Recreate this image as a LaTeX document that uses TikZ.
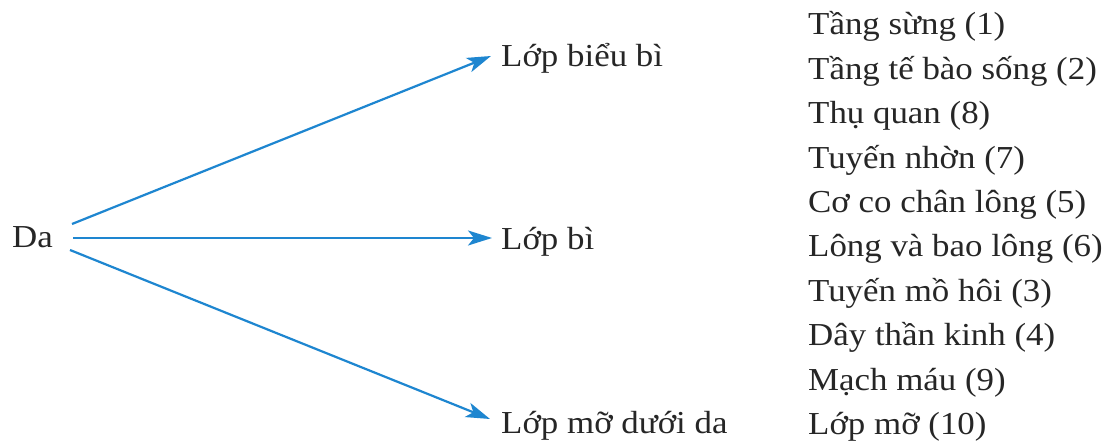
\documentclass[tikz,border=0pt]{standalone}
\usepackage{fontspec}
\setmainfont{Liberation Serif}[FakeStretch=1.09]
\usetikzlibrary{arrows.meta}
\definecolor{arrblue}{HTML}{1E86D0}
\begin{document}
\begin{tikzpicture}[x=1pt,y=-1pt,
  lbl/.style={anchor=base west,inner sep=0pt,font=\fontsize{32}{32}\selectfont,text=black!85},
  arr/.style={draw=arrblue,line width=2.2pt,-{Stealth[length=24pt,width=15pt,inset=6pt]}}]
\useasboundingbox[fill=white] (0,0) rectangle (1117,446);
\node[lbl] (da) at (12,248) {Da};
\node[lbl] (b1) at (501,67) {Lớp biểu bì};
\node[lbl] (b2) at (501,250) {Lớp bì};
\node[lbl] (b3) at (501,433) {Lớp mỡ dưới da};
\coordinate (s1) at (72,224);
\coordinate (s2) at (73,238);
\coordinate (s3) at (70,250);
\coordinate (t1) at (491,56);
\coordinate (t2) at (492,238);
\coordinate (t3) at (490,419);
\draw[arr] (s1) -- (t1);
\draw[arr] (s2) -- (t2);
\draw[arr] (s3) -- (t3);
\node[lbl] (i1) at (808,35) {Tầng sừng (1)};
\node[lbl] (i2) at (808,79.4) {Tầng tế bào sống (2)};
\node[lbl] (i3) at (808,123.8) {Thụ quan (8)};
\node[lbl] (i4) at (808,168.2) {Tuyến nhờn (7)};
\node[lbl] (i5) at (808,212.6) {Cơ co chân lông (5)};
\node[lbl] (i6) at (808,257) {Lông và bao lông (6)};
\node[lbl] (i7) at (808,301.4) {Tuyến mồ hôi (3)};
\node[lbl] (i8) at (808,345.8) {Dây thần kinh (4)};
\node[lbl] (i9) at (808,390.2) {Mạch máu (9)};
\node[lbl] (i10) at (808,434.6) {Lớp mỡ (10)};
\end{tikzpicture}
\end{document}
